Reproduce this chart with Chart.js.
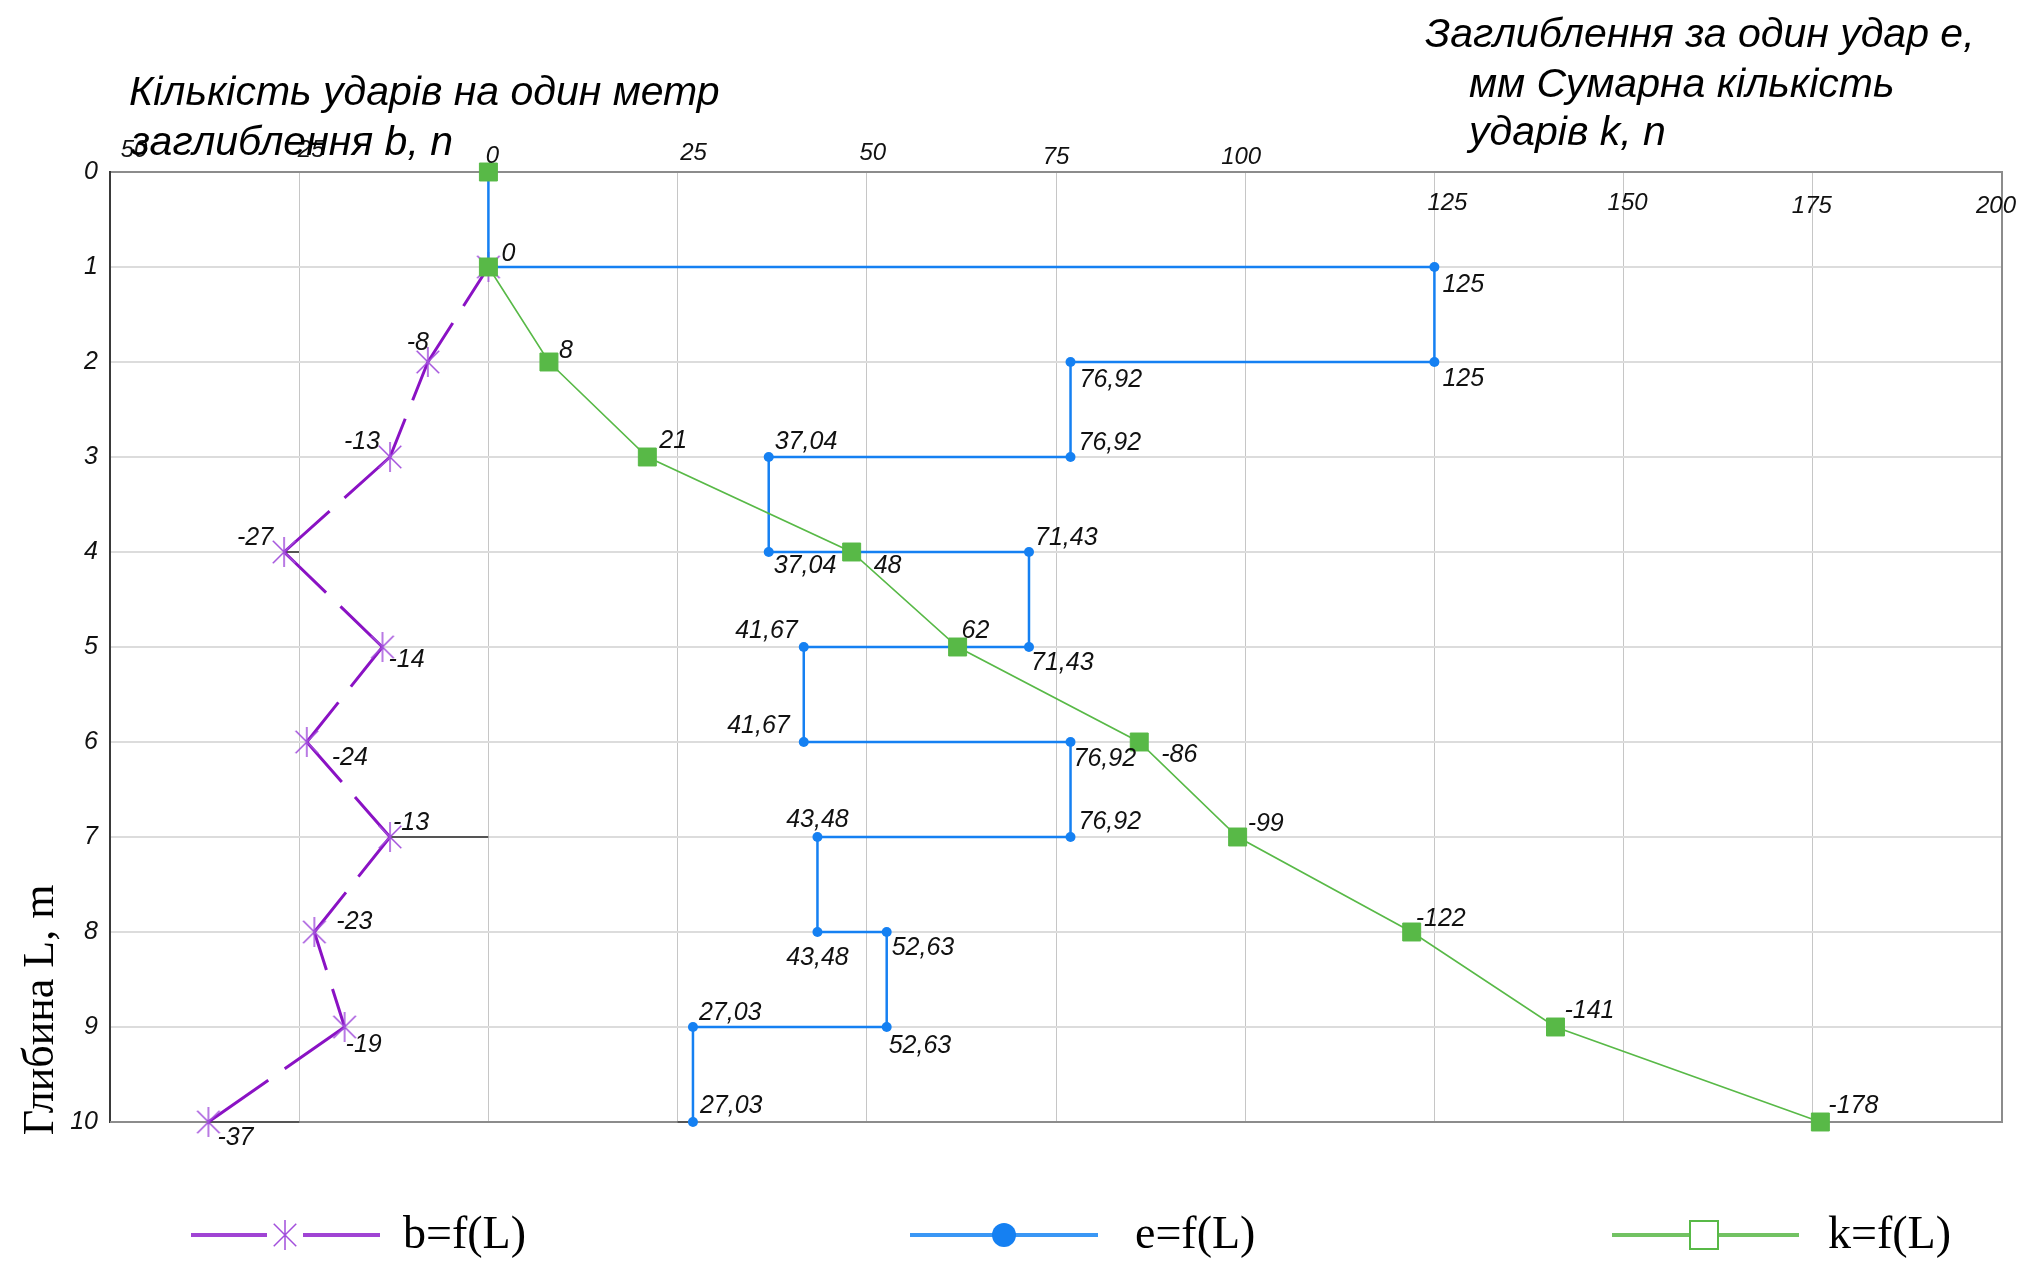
<!DOCTYPE html>
<html><head><meta charset="utf-8">
<script src="https://cdn.jsdelivr.net/npm/chart.js@4.4.1/dist/chart.umd.min.js"></script>
<style>html,body{margin:0;padding:0;background:#fff;}#wrap{width:2019px;height:1262px;position:relative;}</style>
</head><body><div id="wrap"><canvas id="c"></canvas></div>
<script>
// ---- data ----
const depths = [0,1,2,3,4,5,6,7,8,9,10];
const kValues = [0,0,8,21,48,62,86,99,122,141,176];
const kLabels = ['','0','8','21','48','62','-86','-99','-122','-141','-178'];
const bDepths = [1,2,3,4,5,6,7,8,9,10];
const bValues = [0,-8,-13,-27,-14,-24,-13,-23,-19,-37];
const bLabels = ['','-8','-13','-27','-14','-24','-13','-23','-19','-37'];
const eDepths = [0,1,1,2,2,3,3,4,4,5,5,6,6,7,7,8,8,9,9,10];
const eValues = [0,0,125,125,76.92,76.92,37.04,37.04,71.43,71.43,41.67,41.67,76.92,76.92,43.48,43.48,52.63,52.63,27.03,27.03];
const eLabels = eValues.map((v,i)=> i<2 ? '' : (Number.isInteger(v) ? String(v) : v.toFixed(2).replace('.',',')));
const xTickValues = [-50,-25,0,25,50,75,100,125,150,175,200];
const xTickLabels = ['50','25','0','25','50','75','100','125','150','175','200'];
const refDepths = [4,4,7,7,10,10,10,10];
const refValues = [-27,-25,-13,0,-37,-25,25,27.03];
const seriesNames = ['b=f(L)','e=f(L)','k=f(L)'];
const titleLeft = ['Кількість ударів на один метр','заглиблення b, n'];
const titleRight = ['Заглиблення за один удар е,','мм Сумарна кількість','ударів k, n'];
const yTitle = 'Глибина L, m';

// ---- label placement (style) ----
const kLabelPos = [null,[13,-6,'left'],[10,-4,'left'],[12,-9,'left'],[22,21,'left'],[4,-9,'left'],[22,20,'left'],[10,-6,'left'],[4,-6,'left'],[9,-9,'left'],[8,-9,'left']];
const bLabelPos = [null,[1,-12,'right'],[-10,-8,'right'],[-11,-7,'right'],[6,20,'left'],[25,23,'left'],[3,-7,'left'],[22,-3,'left'],[1,25,'left'],[9,23,'left']];
const eLabelPos = [null,null,[8,25,'left'],[8,24,'left'],[9,25,'left'],[8,-7,'left'],[6,-8,'left'],[5,21,'left'],[6,-7,'left'],[2,23,'left'],[-6,-9,'right'],[-14,-9,'right'],[3,24,'left'],[8,-8,'left'],[0,-10,'center'],[0,33,'center'],[5,23,'left'],[2,26,'left'],[6,-7,'left'],[7,-9,'left']];
const xTickPos = [[24,-15],[12,-15],[4,-9],[16,-12],[6,-12],[0,-8],[-4,-8],[13,38],[4,38],[-1,41],[-6,41]];

const PURPLE = '#8a12c4', PURPLE_M = '#a24fdc', BLUE = '#1580f2', GREEN = '#58b947';
const SANS = '"Liberation Sans", Arial, sans-serif';
const SERIF = '"Liberation Serif", "Times New Roman", serif';

function makeStar(size, color, lw){
  const c = document.createElement('canvas'); c.width = size; c.height = size;
  const g = c.getContext('2d'); const h = size/2, r = size/2 - 1;
  g.strokeStyle = color; g.lineWidth = lw;
  g.beginPath();
  g.moveTo(h, h - r); g.lineTo(h, h + r);
  const d = r * 0.75;
  g.moveTo(h - d, h - d); g.lineTo(h + d, h + d);
  g.moveTo(h + d, h - d); g.lineTo(h - d, h + d);
  g.stroke();
  return c;
}
const starImg = makeStar(32, PURPLE_M, 1.5);

const kData = depths.map((d,i)=>({x:kValues[i], y:d}));
const eData = eDepths.map((d,i)=>({x:eValues[i], y:d}));
const bData = bDepths.map((d,i)=>({x:bValues[i], y:d}));
const refData = [];
for (let i = 0; i < refDepths.length; i += 2) {
  refData.push({x:refValues[i], y:refDepths[i]}, {x:refValues[i+1], y:refDepths[i+1]}, {x:null, y:null});
}

const plugin = {
  id: 'extras',
  beforeDatasetsDraw(chart){
    const {ctx, chartArea:a} = chart;
    ctx.save();
    ctx.strokeStyle = '#8c8c8c'; ctx.lineWidth = 2;
    ctx.beginPath(); ctx.moveTo(a.right, a.top); ctx.lineTo(a.right, a.bottom); ctx.lineTo(a.left, a.bottom); ctx.stroke();
    ctx.restore();
  },
  afterDatasetsDraw(chart){
    const ctx = chart.ctx;
    ctx.save();
    ctx.font = 'italic 25px ' + SANS; ctx.fillStyle = '#111'; ctx.textBaseline = 'alphabetic';
    chart.data.datasets.forEach((ds, di) => {
      if (!ds.pointLabels) return;
      const meta = chart.getDatasetMeta(di);
      ds.pointLabels.forEach((t, j) => {
        const p = ds.labelPos[j];
        if (!t || !p) return;
        const el = meta.data[j];
        ctx.textAlign = p[2];
        ctx.fillText(t, el.x + p[0], el.y + p[1]);
      });
    });
    ctx.restore();
  },
  afterDraw(chart){
    const {ctx, chartArea:a} = chart;
    const xs = chart.scales.x;
    ctx.save();
    // top tick labels
    ctx.font = 'italic 24px ' + SANS; ctx.fillStyle = '#111'; ctx.textAlign = 'center'; ctx.textBaseline = 'alphabetic';
    xTickValues.forEach((v,i) => {
      const px = xs.getPixelForValue(v);
      ctx.fillText(xTickLabels[i], px + xTickPos[i][0], a.top + xTickPos[i][1]);
    });
    // titles
    ctx.font = 'italic 41px ' + SANS; ctx.textAlign = 'left'; ctx.fillStyle = '#000';
    ctx.fillText(titleLeft[0], 129, 105);
    ctx.fillText(titleLeft[1], 131, 155);
    ctx.fillText(titleRight[0], 1425, 47);
    ctx.fillText(titleRight[1], 1469, 97);
    ctx.fillText(titleRight[2], 1469, 145);
    // y title
    ctx.save();
    ctx.translate(41, 1010); ctx.rotate(-Math.PI/2);
    ctx.font = '44px ' + SERIF; ctx.textAlign = 'center'; ctx.textBaseline = 'middle';
    ctx.fillText(yTitle, 0, 0);
    ctx.restore();
    // legend
    const ly = 1235;
    ctx.lineWidth = 4; ctx.lineCap = 'butt';
    ctx.strokeStyle = '#a044d4';
    ctx.beginPath(); ctx.moveTo(191, ly); ctx.lineTo(267, ly); ctx.moveTo(303, ly); ctx.lineTo(380, ly); ctx.stroke();
    ctx.drawImage(starImg, 285 - 16, ly - 16);
    ctx.strokeStyle = '#3a97f5';
    ctx.beginPath(); ctx.moveTo(910, ly); ctx.lineTo(1098, ly); ctx.stroke();
    ctx.fillStyle = BLUE; ctx.beginPath(); ctx.arc(1004, ly, 12, 0, Math.PI*2); ctx.fill();
    ctx.strokeStyle = '#72c263';
    ctx.beginPath(); ctx.moveTo(1612, ly); ctx.lineTo(1799, ly); ctx.stroke();
    ctx.fillStyle = '#fff'; ctx.fillRect(1690, ly - 14, 28, 28);
    ctx.strokeStyle = GREEN; ctx.lineWidth = 2; ctx.strokeRect(1690, ly - 14, 28, 28);
    ctx.fillStyle = '#000'; ctx.font = '46px ' + SERIF; ctx.textAlign = 'left'; ctx.textBaseline = 'alphabetic';
    ctx.fillText(seriesNames[0], 403, 1248);
    ctx.fillText(seriesNames[1], 1135, 1248);
    ctx.fillText(seriesNames[2], 1828, 1248);
    ctx.restore();
  }
};

new Chart(document.getElementById('c'), {
  type: 'scatter',
  data: { datasets: [
    { label: seriesNames[2], data: kData, showLine: true, borderColor: GREEN, borderWidth: 1.6,
      pointStyle: 'rect', pointRadius: 12.7, pointBackgroundColor: GREEN, pointBorderColor: GREEN, pointBorderWidth: 1,
      clip: false, pointLabels: kLabels, labelPos: kLabelPos,
      segment: { borderColor: c => c.p0DataIndex === 0 ? 'rgba(0,0,0,0)' : GREEN } },
    { label: seriesNames[1], data: eData, showLine: true, borderColor: BLUE, borderWidth: 2.5,
      pointStyle: 'circle', pointRadius: 5, pointBackgroundColor: BLUE, pointBorderColor: BLUE, pointBorderWidth: 0,
      clip: false, pointLabels: eLabels, labelPos: eLabelPos },
    { label: seriesNames[0], data: bData, showLine: true, borderColor: PURPLE, borderWidth: 3,
      pointStyle: starImg, pointRadius: 5, clip: false, pointLabels: bLabels, labelPos: bLabelPos,
      segment: { borderDash: c => { const L = Math.hypot(c.p1.x - c.p0.x, c.p1.y - c.p0.y); const g = 20; const d = Math.max((L - g)/2, 1); return [d, g, d + 4, 2000]; } } },
    { label: 'ref', data: refData, showLine: true, spanGaps: false, borderColor: '#555', borderWidth: 2,
      pointRadius: 0, clip: false }
  ]},
  options: {
    responsive: true, maintainAspectRatio: false, animation: false, devicePixelRatio: 1,
    layout: { padding: { left: 0, top: 0, right: 17, bottom: 140 } },
    plugins: { legend: { display: false }, tooltip: { enabled: false }, title: { display: false } },
    scales: {
      x: { type: 'linear', position: 'top', min: -50, max: 200,
        ticks: { stepSize: 25, display: false },
        grid: { color: '#c6c6c6', lineWidth: 1, drawTicks: false },
        border: { color: '#8c8c8c', width: 2 },
        afterFit: s => { s.height = 172; } },
      y: { type: 'linear', reverse: true, min: 0, max: 10,
        ticks: { stepSize: 1, color: '#111', padding: 12, font: { family: SANS, size: 25, style: 'italic' } },
        grid: { color: '#dcdcdc', lineWidth: 2, drawTicks: false },
        border: { color: '#3a3a3a', width: 2 },
        afterFit: s => { s.width = 110; } }
    }
  },
  plugins: [plugin]
});
</script></body></html>
